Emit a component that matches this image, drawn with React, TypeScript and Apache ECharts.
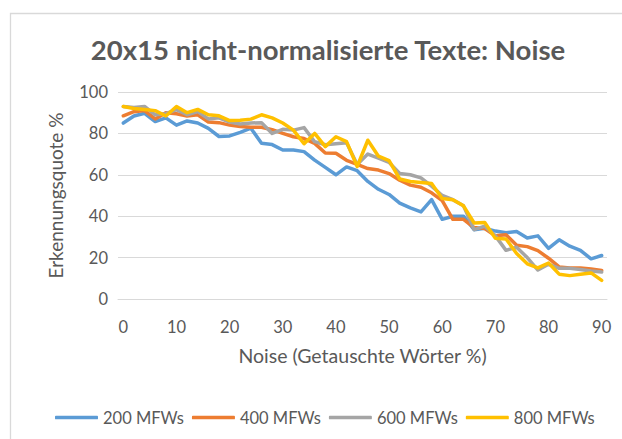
import React, { useEffect, useRef } from "react";
import * as echarts from "echarts";

const categories = [
  "0", "2", "4", "6", "8", "10", "12", "14", "16", "18", "20", "22", "24", "26", "28", "30",
  "32", "34", "36", "38", "40", "42", "44", "46", "48", "50", "52", "54", "56", "58", "60",
  "62", "64", "66", "68", "70", "72", "74", "76", "78", "80", "82", "84", "86", "88", "90",
];

const mfw200 = [85, 88.4, 89.7, 85.7, 87.5, 84, 86, 85, 82.4, 78.5, 78.8, 80.5, 82.5, 75.2, 74.6, 72, 72, 71.2, 67.1, 63.6, 60, 63.8, 62, 56.8, 53, 50.5, 46.3, 44, 42.1, 48, 38.5, 40, 40, 33.5, 34.2, 32.8, 32, 32.6, 29.5, 30.5, 24.5, 28.6, 25.5, 23.5, 19.4, 21];
const mfw400 = [88.5, 90.5, 91, 87, 90, 89.5, 88.4, 89, 85.5, 85.2, 84, 83.3, 83, 83, 81.8, 80, 78.4, 77.5, 75.2, 70.5, 70.4, 67, 65, 63, 62.3, 60.6, 57.4, 55, 54, 51.3, 47.5, 38.5, 38.5, 34.5, 34, 30.5, 31, 26, 25.3, 23.4, 19.7, 15.5, 15, 15, 14.5, 13.8];
const mfw600 = [93, 92.5, 93, 89, 89.5, 91.5, 89, 90.5, 87, 87.5, 85.5, 84.5, 85, 85.2, 80, 82, 81.6, 82.8, 76, 74.5, 75, 75.5, 65, 70, 68, 66, 60.6, 60, 58.5, 54.5, 50, 48, 45, 33.5, 35.2, 30.5, 23.5, 25, 20, 14, 16.8, 14.8, 14.8, 14.2, 13.5, 13];
const mfw800 = [93, 92, 91.5, 91, 88.4, 93, 90, 91.6, 89, 88.5, 86.2, 86.3, 86.9, 89, 87.5, 85, 81.6, 75, 80, 73.6, 78.4, 76, 64, 76.7, 69, 66.8, 58, 56.8, 56.3, 55.8, 48.6, 48, 45, 36.7, 37, 29.3, 29, 22, 17, 15, 17.4, 12, 11.3, 12, 12.6, 9];

const seriesNames = ["200 MFWs", "400 MFWs", "600 MFWs", "800 MFWs"];
const seriesColors = ["#5b9bd5", "#ed7d31", "#a5a5a5", "#ffc000"];
const seriesData = [mfw200, mfw400, mfw600, mfw800];

const FONT = "Lato, 'Open Sans', sans-serif";
const TXT = "#595959";

export default function App() {
  const ref = useRef<HTMLDivElement>(null);
  useEffect(() => {
    if (!ref.current) return;
    const chart = echarts.init(ref.current, undefined, { renderer: "svg" });
    chart.setOption({
      animation: false,
      backgroundColor: "#ffffff",
      textStyle: { fontFamily: FONT },
      title: {
        text: "20x15 nicht-normalisierte Texte: Noise",
        left: 323,
        top: 30,
        textAlign: "center",
        textStyle: { fontFamily: FONT, fontSize: 27.5, fontWeight: "bold", color: TXT },
      },
      graphic: [
        {
          type: "rect",
          shape: { x: 10.5, y: 13.5, width: 700, height: 600 },
          style: { fill: "none", stroke: "#d9d9d9", lineWidth: 1.3 },
          silent: true,
        },
      ],
      legend: {
        data: seriesNames,
        left: 50,
        top: 404,
        width: 570,
        itemWidth: 43,
        itemHeight: 3.5,
        itemGap: 8,
        icon: "roundRect",
        textStyle: { fontFamily: FONT, fontSize: 16.5, color: TXT, padding: [0, 0, 0, 0] },
      },
      grid: { left: 118, right: 15, top: 92, bottom: 140 },
      xAxis: {
        type: "category",
        data: categories,
        boundaryGap: true,
        name: "Noise (Getauschte Wörter %)",
        nameLocation: "middle",
        nameGap: 46,
        nameTextStyle: { fontFamily: FONT, fontSize: 19.5, color: TXT },
        axisLine: { lineStyle: { color: "#d9d9d9", width: 1 } },
        axisTick: { show: false },
        axisLabel: { interval: 4, margin: 19, fontFamily: FONT, fontSize: 16.5, color: TXT },
        splitLine: { show: false },
      },
      yAxis: {
        type: "value",
        min: 0,
        max: 100,
        interval: 20,
        name: "Erkennungsquote %",
        nameLocation: "middle",
        nameGap: 53,
        nameRotate: 90,
        nameTextStyle: { fontFamily: FONT, fontSize: 19, color: TXT },
        axisLine: { show: false },
        axisTick: { show: false },
        axisLabel: { margin: 10, fontFamily: FONT, fontSize: 16.5, color: TXT },
        splitLine: { lineStyle: { color: "#d9d9d9", width: 1 } },
      },
      series: seriesData.map((d, k) => ({
        name: seriesNames[k],
        type: "line",
        data: d,
        showSymbol: false,
        symbol: "none",
        color: seriesColors[k],
        lineStyle: { width: 3.5, color: seriesColors[k], cap: "round", join: "round" },
      })),
    });
    return () => chart.dispose();
  }, []);
  return (
    <div
      ref={ref}
      style={{ position: "fixed", left: 0, top: 0, width: 622, height: 439 }}
    />
  );
}
